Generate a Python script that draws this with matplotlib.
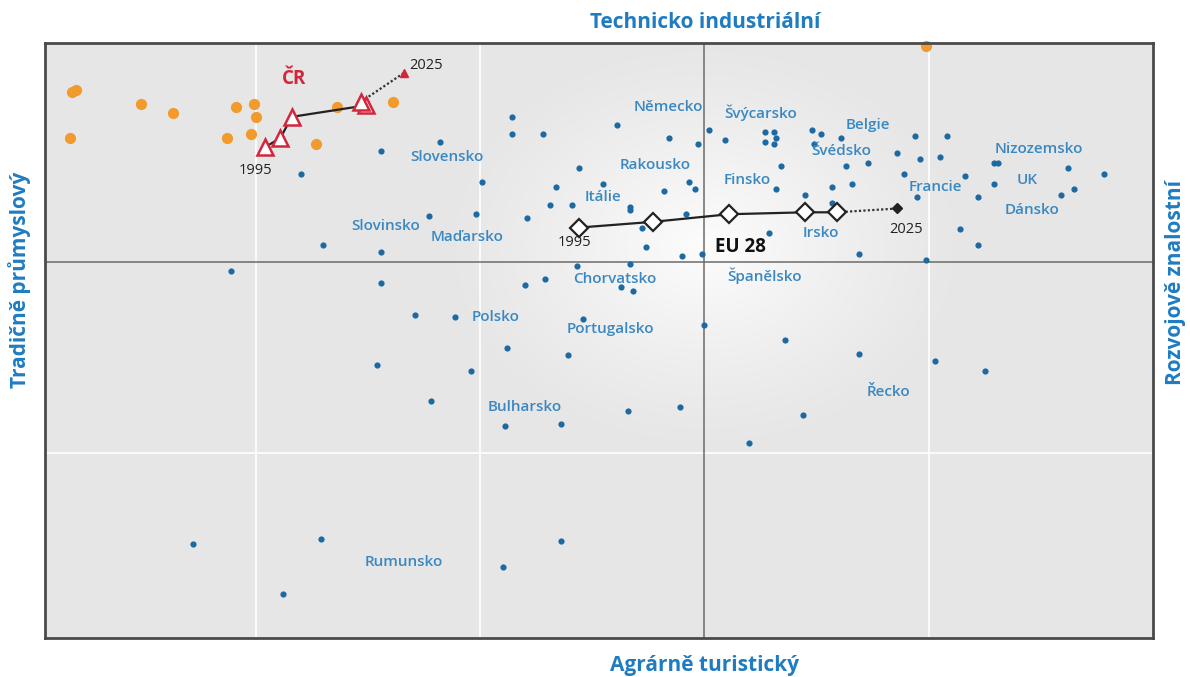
import numpy as np
import matplotlib.pyplot as plt

plt.rcParams['font.family'] = ['Open Sans', 'DejaVu Sans']

# Data (units: one grid cell = 1; origin at the dark cross lines)
blue_x = [-1.44, -1.18, -1.80, -0.86, -0.86, -0.72, -0.39, -0.16, -0.03, 0.02,
          0.09, -0.99, -0.56, -0.66, -0.45, -0.18, -0.07, -0.04, -0.69, -0.59,
          -0.33, -0.33, -0.08, -1.23, -1.02, -0.79, -0.28, -0.26, -0.10, -0.01,
          -1.44, -0.57, -0.33, -0.71, -0.80, -1.44, -0.37, -0.32, -1.70, -2.11,
          -1.29, -1.11, -1.46, -1.22, -0.54, 0.00, 0.36, -0.88, -0.61, -1.04,
          -0.34, -0.11, 0.44, -0.89, -0.64, 0.20, 0.69, 1.03, 1.25, -2.28,
          -1.71, -1.88, -0.90, -0.64, 0.27, 0.31, 0.32, 0.27, 0.31, 0.48,
          0.52, 0.61, 0.49, 0.94, 1.08, 0.86, 0.96, 1.05, 0.63, 0.73,
          0.34, 0.89, 1.16, 1.29, 1.31, 1.62, 1.78, 0.66, 0.57, 0.32,
          0.45, 0.95, 1.22, 1.29, 1.59, 1.65, 0.29, 0.57, 0.69, 1.14,
          1.22, 0.99]
blue_y = [0.58, 0.63, 0.46, 0.76, 0.67, 0.67, 0.72, 0.65, 0.62, 0.69,
          0.64, 0.42, 0.49, 0.39, 0.41, 0.37, 0.42, 0.38, 0.30, 0.30,
          0.29, 0.27, 0.25, 0.24, 0.25, 0.23, 0.18, 0.08, 0.03, 0.04,
          0.05, -0.02, -0.01, -0.09, -0.12, -0.11, -0.13, -0.15, 0.09, -0.05,
          -0.28, -0.29, -0.54, -0.73, -0.30, -0.33, -0.41, -0.45, -0.49, -0.57,
          -0.78, -0.76, -0.80, -0.86, -0.85, -0.95, -0.48, -0.52, -0.57, -1.48,
          -1.45, -1.74, -1.60, -1.46, 0.68, 0.68, 0.65, 0.63, 0.62, 0.69,
          0.67, 0.65, 0.62, 0.66, 0.66, 0.57, 0.54, 0.55, 0.50, 0.52,
          0.50, 0.46, 0.45, 0.52, 0.52, 0.49, 0.46, 0.41, 0.39, 0.38,
          0.35, 0.34, 0.34, 0.41, 0.35, 0.38, 0.15, 0.31, 0.04, 0.17,
          0.09, 0.01]

orange_x = [-2.82, -2.80, -2.51, -2.37, -2.09, -2.01, -2.00, -2.83, -2.13, -2.02,
            -1.73, -1.64, -1.39, 0.99]
orange_y = [0.89, 0.90, 0.83, 0.78, 0.81, 0.83, 0.76, 0.65, 0.65, 0.67,
            0.62, 0.81, 0.84, 1.13]

cr_x = [-1.96, -1.89, -1.84, -1.51, -1.53]
cr_y = [0.60, 0.65, 0.76, 0.82, 0.84]
cr_2025 = (-1.34, 0.99)

eu_x = [-0.56, -0.23, 0.11, 0.45, 0.59]
eu_y = [0.18, 0.21, 0.25, 0.26, 0.26]
eu_2025 = (0.86, 0.28)

countries = ['Slovensko', 'Německo', 'Švýcarsko', 'Belgie', 'Švédsko', 'Nizozemsko',
             'Rakousko', 'Finsko', 'Francie', 'UK', 'Itálie', 'Dánsko', 'Slovinsko',
             'Maďarsko', 'Irsko', 'Chorvatsko', 'Španělsko', 'Polsko', 'Portugalsko',
             'Řecko', 'Bulharsko', 'Rumunsko']
label_x = [-1.15, -0.16, 0.25, 0.73, 0.61, 1.49, -0.22, 0.19, 1.03, 1.44, -0.45, 1.46,
           -1.42, -1.06, 0.52, -0.40, 0.27, -0.93, -0.42, 0.82, -0.80, -1.34]
label_y = [0.55, 0.81, 0.78, 0.72, 0.58, 0.59, 0.51, 0.43, 0.39, 0.43, 0.34, 0.27,
           0.19, 0.13, 0.15, -0.09, -0.07, -0.29, -0.35, -0.68, -0.76, -1.57]

xlim = (-2.94, 2.0)
ylim = (-1.97, 1.147)

BLUE_DOT = '#1d6aa3'
BLUE_TXT = '#3a88c2'
BLUE_AX = '#1f7cc1'
RED = '#d2263c'
ORANGE = '#f29a2c'

fig = plt.figure(figsize=(11.9, 6.77), dpi=100)
ax = fig.add_axes([0.0378, 0.0576, 0.9311, 0.8789])

# background with soft radial glow
gx = np.linspace(xlim[0], xlim[1], 600)
gy = np.linspace(ylim[0], ylim[1], 400)
GX, GY = np.meshgrid(gx, gy)
r = np.sqrt((GX / 1.2) ** 2 + ((GY - 0.08) / 1.1) ** 2)
glow = np.clip(1 - r, 0, 1) ** 1.2
val = 0.902 + (0.99 - 0.902) * glow
bg = np.dstack([val, val, val])
ax.imshow(bg, extent=[xlim[0], xlim[1], ylim[0], ylim[1]], origin='lower',
          aspect='auto', zorder=0, interpolation='bilinear')

for gxv in [-2, -1, 1]:
    ax.axvline(gxv, color='white', lw=1.2, zorder=1)
ax.axhline(-1, color='white', lw=1.2, zorder=1)
ax.axvline(0, color='#6b6b6b', lw=1.1, zorder=1)
ax.axhline(0, color='#6b6b6b', lw=1.1, zorder=1)

ax.scatter(blue_x, blue_y, s=20, color=BLUE_DOT, zorder=3, linewidths=0)
ax.scatter(orange_x, orange_y, s=65, color=ORANGE, zorder=3, linewidths=0, clip_on=False)

# CR path
ax.plot(cr_x, cr_y, color='#222222', lw=1.6, zorder=4)
ax.plot([cr_x[-1], cr_2025[0]], [cr_y[-1], cr_2025[1]], color='#333333', lw=1.6,
        ls=(0, (1, 1)), zorder=4)
ax.plot(cr_x, cr_y, ls='none', marker='^', ms=11, mfc='white', mec=RED, mew=1.8, zorder=5)
ax.plot(*cr_2025, marker='^', ms=6, color=RED, zorder=5)

# EU 28 path
ax.plot(eu_x, eu_y, color='#222222', lw=1.6, zorder=4)
ax.plot([eu_x[-1], eu_2025[0]], [eu_y[-1], eu_2025[1]], color='#333333', lw=1.6,
        ls=(0, (1, 1)), zorder=4)
ax.plot(eu_x, eu_y, ls='none', marker='D', ms=9, mfc='white', mec='#222222', mew=1.6, zorder=5)
ax.plot(*eu_2025, marker='D', ms=5, color='#222222', zorder=5)

for name, lx, ly in zip(countries, label_x, label_y):
    ax.text(lx, ly, name, color=BLUE_TXT, fontsize=11, fontweight='semibold',
            ha='center', va='center', zorder=6)

ax.text(0.16, 0.08, 'EU 28', color='#111111', fontsize=13.5, fontweight='bold',
        ha='center', va='center', zorder=6)
ax.text(-0.58, 0.10, '1995', color='#222222', fontsize=10.5, ha='center', va='center', zorder=6)
ax.text(0.90, 0.17, '2025', color='#222222', fontsize=10.5, ha='center', va='center', zorder=6)
ax.text(-1.83, 0.96, 'ČR', color=RED, fontsize=13.5, fontweight='bold',
        ha='center', va='center', zorder=6)
ax.text(-2.00, 0.48, '1995', color='#222222', fontsize=10.5, ha='center', va='center', zorder=6)
ax.text(-1.24, 1.03, '2025', color='#222222', fontsize=10.5, ha='center', va='center', zorder=6)

ax.set_xlim(xlim)
ax.set_ylim(ylim)
ax.set_xticks([])
ax.set_yticks([])
for sp in ax.spines.values():
    sp.set_color('#4a4a4a')
    sp.set_linewidth(2)
    sp.set_zorder(7)

fig.text(705 / 1190, 1 - 22 / 677, 'Technicko industriální', color=BLUE_AX, fontsize=15,
         fontweight='bold', ha='center', va='center')
fig.text(705 / 1190, 1 - 665 / 677, 'Agrárně turistický', color=BLUE_AX, fontsize=15,
         fontweight='bold', ha='center', va='center')
fig.text(20 / 1190, 1 - 280 / 677, 'Tradičně průmyslový', color=BLUE_AX, fontsize=15,
         fontweight='bold', ha='center', va='center', rotation=90)
fig.text(1176 / 1190, 1 - 282 / 677, 'Rozvojově znalostní', color=BLUE_AX, fontsize=15,
         fontweight='bold', ha='center', va='center', rotation=90)

fig.savefig('out.png', dpi=100)
